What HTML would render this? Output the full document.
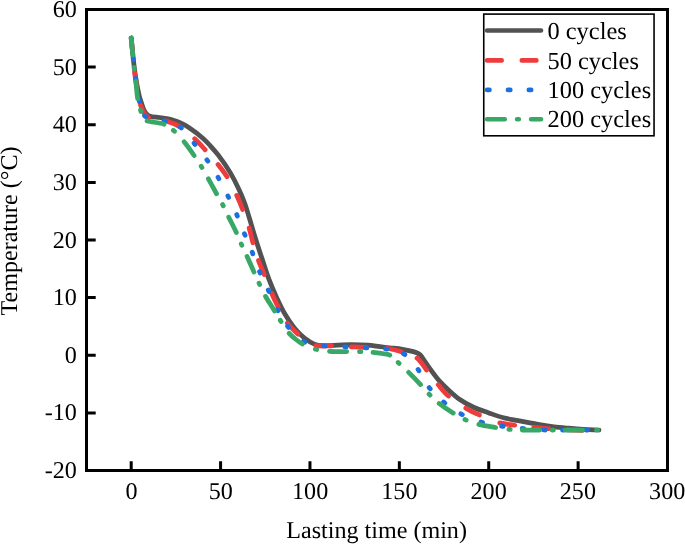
<!DOCTYPE html>
<html><head><meta charset="utf-8"><title>Chart</title>
<style>html,body{margin:0;padding:0;background:#fff;}svg{display:block;will-change:transform;}text{font-family:"Liberation Serif",serif;fill:#000;text-rendering:geometricPrecision;}</style></head><body>
<svg width="685" height="544" viewBox="0 0 685 544">
<rect x="0" y="0" width="685" height="544" fill="#fff"/>
<g fill="none" stroke-width="4.75" stroke-linecap="round" stroke-linejoin="round">
<path d="M131.20 38.00 C131.73 43.33 132.23 48.67 132.80 54.00 C133.37 59.34 133.89 64.76 134.60 70.00 C135.29 75.09 136.15 80.40 137.00 85.00 C137.73 88.96 138.48 92.84 139.30 96.00 C139.93 98.44 140.58 100.20 141.30 102.40 C142.07 104.76 142.80 107.67 143.80 109.70 C144.60 111.32 145.42 112.68 146.50 113.80 C147.51 114.85 148.45 115.69 150.00 116.30 C152.30 117.20 156.45 117.11 159.40 117.50 C162.01 117.84 164.36 118.02 166.80 118.50 C169.26 118.98 171.82 119.66 174.10 120.40 C176.19 121.08 177.87 121.72 180.00 122.70 C182.67 123.93 185.59 125.32 188.80 127.40 C193.16 130.22 199.53 135.24 203.40 138.70 C206.23 141.23 207.94 143.21 210.30 145.80 C212.96 148.72 215.64 151.66 218.50 155.40 C222.16 160.18 226.69 166.71 230.10 172.40 C233.30 177.75 236.01 183.21 238.50 188.50 C240.84 193.46 242.87 198.21 244.70 203.20 C246.54 208.21 247.84 213.07 249.50 218.50 C251.38 224.65 253.33 231.57 255.40 238.20 C257.52 245.00 259.85 251.95 262.10 258.80 C264.35 265.62 266.42 272.64 268.90 279.20 C271.27 285.49 273.89 291.51 276.60 297.40 C279.23 303.10 281.85 308.80 284.90 314.00 C287.81 318.97 290.98 323.84 294.40 328.00 C297.55 331.83 300.97 335.44 304.50 338.20 C307.67 340.68 311.08 342.86 314.40 344.10 C317.32 345.19 320.14 345.48 323.20 345.70 C326.49 345.93 329.60 345.44 333.50 345.30 C338.61 345.11 345.43 344.71 351.20 344.70 C356.72 344.69 362.35 344.82 367.40 345.20 C371.87 345.53 376.07 346.24 380.00 346.70 C383.44 347.10 386.25 347.40 389.70 347.80 C393.65 348.26 398.33 348.64 402.40 349.30 C406.21 349.92 410.55 350.75 413.40 351.60 C415.29 352.16 416.73 352.71 418.00 353.40 C419.00 353.94 419.72 354.43 420.50 355.20 C421.41 356.10 421.98 357.16 423.00 358.60 C424.71 361.01 427.21 364.97 429.70 368.40 C432.56 372.35 436.00 377.16 439.30 380.90 C442.29 384.29 445.24 387.02 448.50 390.00 C451.92 393.13 455.35 396.38 459.40 399.20 C463.81 402.26 469.10 405.19 474.10 407.50 C478.91 409.72 483.89 411.18 488.80 412.90 C493.69 414.61 498.56 416.51 503.50 417.80 C508.36 419.07 513.57 419.73 518.20 420.60 C522.35 421.38 526.29 422.10 530.00 422.80 C533.31 423.43 535.91 424.01 539.40 424.60 C543.75 425.34 549.19 426.20 554.10 426.80 C558.99 427.40 563.90 427.78 568.80 428.20 C573.70 428.62 578.53 429.00 583.50 429.30 C588.60 429.61 593.83 429.77 599.00 430.00" stroke="#525252"/>
<path d="M131.20 38.00 C131.73 43.33 132.24 48.37 132.80 54.00 C133.43 60.30 134.02 67.94 134.80 74.00 C135.45 79.09 136.13 83.13 137.00 88.00 C137.96 93.36 139.02 100.37 140.40 104.80 C141.35 107.86 142.12 110.08 143.60 112.30 C145.08 114.51 146.97 116.88 149.30 118.10 C151.73 119.37 155.09 119.09 158.00 119.60 C160.93 120.12 163.63 120.25 166.80 121.20 C170.82 122.40 175.67 124.18 180.00 126.80 C184.99 129.81 190.35 134.77 194.70 138.80 C198.56 142.38 201.45 145.72 205.00 149.60 C208.98 153.95 213.58 158.94 217.40 163.70 C221.05 168.24 224.38 172.45 227.50 177.50 C230.90 183.00 234.18 189.97 236.80 195.60 C239.01 200.36 240.52 204.12 242.40 209.00 C244.61 214.73 247.28 221.96 249.10 227.90 C250.68 233.07 251.45 237.49 252.90 242.60 C254.51 248.24 256.41 254.76 258.40 260.30 C260.21 265.34 262.19 269.50 264.20 274.50 C266.44 280.07 268.74 286.54 271.20 292.20 C273.52 297.55 275.84 302.51 278.50 307.60 C281.23 312.81 284.06 318.62 287.40 323.10 C290.40 327.12 294.15 330.43 297.30 333.50 C299.98 336.12 302.16 338.54 305.00 340.50 C307.86 342.48 310.65 344.32 314.40 345.30 C319.24 346.57 326.13 345.75 332.00 346.00 C337.89 346.25 343.75 346.55 349.70 346.80 C355.75 347.05 361.75 347.23 368.00 347.50 C374.57 347.79 382.21 347.62 388.20 348.50 C393.13 349.23 396.96 350.32 401.50 351.80 C406.50 353.43 412.68 354.97 416.90 358.10 C420.93 361.09 423.17 365.74 426.50 369.90 C430.18 374.49 434.19 379.98 438.00 384.50 C441.48 388.63 444.28 392.35 448.40 396.00 C453.16 400.21 459.81 404.62 465.30 407.90 C470.08 410.75 474.19 412.62 479.30 414.90 C485.21 417.54 492.64 420.89 498.80 422.60 C504.05 424.06 508.55 424.36 513.80 425.10 C519.56 425.91 525.97 426.60 532.00 427.20 C537.94 427.79 544.01 428.25 549.70 428.70 C554.98 429.11 559.70 429.52 565.00 429.80 C570.71 430.10 577.01 430.32 582.80 430.40 C588.33 430.48 593.60 430.33 599.00 430.30" stroke="#EE3B3E" stroke-dasharray="15.25 19.32 15.25 17.92 15.25 17.39 15.25 19.33 15.25 19.52 15.25 20.97 15.25 19.69 15.25 18.50 15.25 20.03 15.25 18.54 15.25 21.99 15.25 19.97 15.25 20.05 15.25 16.84 15.25 18.86 15.25 21.06 15.25 21.85 15.25 19.00 15.25 18.50 15.25 2000.00"/>
<path d="M131.20 38.00 C131.90 45.07 132.54 52.24 133.30 59.20 C134.04 65.97 134.75 72.41 135.70 79.20 C136.70 86.30 137.90 95.15 139.20 100.90 C140.07 104.78 140.88 107.75 142.00 110.50 C142.91 112.73 143.52 114.89 145.10 116.30 C146.78 117.79 149.28 118.26 152.00 119.00 C155.67 119.99 160.83 119.87 165.30 121.10 C170.15 122.44 175.47 123.78 180.00 127.00 C185.35 130.81 189.90 138.06 194.50 143.70 C198.99 149.20 203.30 154.68 207.30 160.40 C211.27 166.08 214.93 171.90 218.40 177.90 C221.90 183.96 225.08 190.34 228.20 196.60 C231.28 202.78 234.25 208.92 237.00 215.20 C239.75 221.48 242.10 227.98 244.70 234.30 C247.27 240.55 250.00 246.62 252.50 252.90 C255.03 259.25 257.13 265.89 259.80 272.20 C262.46 278.48 265.56 284.48 268.50 290.70 C271.49 297.04 274.28 303.80 277.60 309.90 C280.80 315.78 283.75 321.53 288.00 326.70 C292.47 332.14 299.15 338.59 304.00 341.60 C307.21 343.60 309.77 344.26 313.00 345.00 C316.52 345.80 320.02 345.72 324.40 346.00 C330.32 346.37 338.36 346.50 345.30 346.80 C352.19 347.10 359.08 347.43 365.90 347.80 C372.64 348.16 380.47 348.42 386.00 349.00 C389.92 349.41 392.91 349.61 396.00 350.50 C398.87 351.33 401.53 352.45 404.00 354.00 C406.54 355.59 408.76 357.61 411.00 360.00 C413.59 362.77 415.78 366.04 418.40 369.90 C421.84 374.96 425.18 382.56 429.50 388.00 C433.73 393.33 438.74 397.97 444.00 402.30 C449.33 406.69 455.12 410.80 461.30 414.10 C467.60 417.46 474.64 420.16 481.50 422.20 C488.24 424.20 495.21 425.25 502.10 426.30 C508.94 427.34 515.76 427.89 522.70 428.50 C529.76 429.12 537.18 429.76 544.10 430.00 C550.59 430.23 556.36 430.00 563.00 430.00 C570.41 430.00 579.89 430.00 586.50 430.00 C591.32 430.00 594.83 430.00 599.00 430.00" stroke="#1C6FE0" stroke-dasharray="1.65 18.83 1.65 18.49 1.65 20.34 1.65 15.00 1.65 18.73 1.65 15.69 1.65 19.71 1.65 19.40 1.65 19.08 1.65 19.47 1.65 18.93 1.65 18.94 1.65 18.52 1.65 18.99 1.65 18.80 1.65 19.60 1.65 18.14 1.65 20.29 1.65 19.48 1.65 19.27 1.65 18.97 1.65 18.49 1.65 17.24 1.65 19.97 1.65 19.60 1.65 18.75 1.65 19.33 1.65 20.15 1.65 19.37 1.65 19.07 1.65 19.81 1.65 17.25 1.65 21.85 1.65 2000.00"/>
<path d="M131.20 38.00 C131.80 44.33 132.44 51.51 133.00 57.00 C133.43 61.20 133.76 64.34 134.20 68.10 C134.66 72.00 135.17 75.52 135.70 80.00 C136.38 85.80 136.87 94.38 137.90 100.00 C138.67 104.18 139.81 107.78 140.70 110.80 C141.36 113.01 141.81 114.93 142.60 116.50 C143.23 117.75 143.92 118.82 144.80 119.60 C145.61 120.31 146.22 120.61 147.60 121.10 C150.82 122.25 159.94 122.45 164.60 124.40 C168.36 125.98 170.84 128.16 173.90 130.80 C177.49 133.90 181.22 138.20 184.50 142.20 C187.78 146.20 190.72 150.62 193.60 154.80 C196.37 158.82 199.01 162.76 201.50 166.80 C203.94 170.76 206.04 174.58 208.40 178.80 C210.99 183.44 213.86 188.90 216.40 193.50 C218.67 197.60 220.83 201.11 222.90 205.10 C225.03 209.20 226.88 213.48 229.00 217.80 C231.23 222.34 233.87 227.12 236.00 231.70 C238.02 236.05 239.60 240.34 241.50 244.60 C243.40 248.84 245.43 252.88 247.40 257.20 C249.46 261.73 251.57 266.66 253.60 271.20 C255.53 275.51 257.29 279.57 259.30 283.80 C261.38 288.17 263.48 292.67 265.90 297.00 C268.37 301.41 271.45 305.85 274.00 310.00 C276.33 313.79 278.22 317.21 280.60 320.90 C283.16 324.86 286.05 329.72 288.90 333.00 C291.21 335.66 293.48 337.51 296.00 339.50 C298.54 341.51 301.04 343.43 304.10 345.00 C307.57 346.77 311.86 348.27 315.90 349.30 C319.96 350.34 323.78 350.80 328.40 351.20 C334.08 351.69 341.81 351.54 347.50 351.60 C352.11 351.65 355.84 351.47 360.00 351.60 C364.17 351.73 368.34 352.00 372.50 352.40 C376.67 352.80 381.84 353.43 385.00 354.00 C386.95 354.35 388.01 354.23 389.70 355.10 C392.33 356.45 395.49 360.07 398.50 362.80 C401.78 365.77 405.15 368.91 408.60 372.30 C412.40 376.03 416.73 380.46 420.30 384.30 C423.46 387.69 425.91 390.96 429.00 394.10 C432.14 397.30 435.27 400.32 439.00 403.30 C443.17 406.64 448.41 410.17 453.00 413.00 C457.16 415.57 461.02 417.81 465.30 419.70 C469.62 421.61 474.04 423.14 478.80 424.40 C483.91 425.75 489.87 426.56 495.00 427.40 C499.62 428.16 503.81 428.87 508.20 429.30 C512.54 429.73 516.38 429.87 521.20 430.00 C527.24 430.16 535.84 430.00 541.60 430.00 C545.83 430.00 547.95 430.00 552.60 430.00 C560.67 430.00 577.14 430.00 585.70 430.00 C591.13 430.00 594.57 430.00 599.00 430.00" stroke="#38A866" stroke-dasharray="17.05 12.47 1.45 12.86 17.05 11.92 1.45 11.88 17.05 11.36 1.45 14.14 17.05 12.86 1.45 12.98 17.05 12.40 1.45 12.63 17.05 12.55 1.45 12.32 17.05 12.23 1.45 13.24 17.05 11.09 1.45 14.28 17.05 13.94 1.45 12.96 17.05 12.81 1.45 12.12 17.05 11.09 1.45 13.03 17.05 12.77 1.45 12.29 17.05 13.31 1.45 13.33 17.05 13.38 1.45 12.09 17.05 12.75 1.45 11.74 17.05 14.01 1.45 2000.00"/>
</g>
<rect x="86.5" y="9.5" width="581.0" height="461.0" fill="none" stroke="#000" stroke-width="3"/>
<path d="M131.19 470.50 V461.30 M220.58 470.50 V461.30 M309.96 470.50 V461.30 M399.35 470.50 V461.30 M488.73 470.50 V461.30 M578.12 470.50 V461.30 M86.50 412.88 H95.70 M86.50 355.25 H95.70 M86.50 297.62 H95.70 M86.50 240.00 H95.70 M86.50 182.38 H95.70 M86.50 124.75 H95.70 M86.50 67.12 H95.70" stroke="#000" stroke-width="3" fill="none"/>
<g font-size="24.1">
<text transform="translate(76.80 478.10)" text-anchor="end">-20</text>
<text transform="translate(76.80 420.48)" text-anchor="end">-10</text>
<text transform="translate(76.80 362.85)" text-anchor="end">0</text>
<text transform="translate(76.80 305.23)" text-anchor="end">10</text>
<text transform="translate(76.80 247.60)" text-anchor="end">20</text>
<text transform="translate(76.80 189.97)" text-anchor="end">30</text>
<text transform="translate(76.80 132.35)" text-anchor="end">40</text>
<text transform="translate(76.80 74.72)" text-anchor="end">50</text>
<text transform="translate(76.80 17.10)" text-anchor="end">60</text>
<text transform="translate(131.59 498.70)" text-anchor="middle">0</text>
<text transform="translate(220.85 498.70)" text-anchor="middle">50</text>
<text transform="translate(310.11 498.70)" text-anchor="middle">100</text>
<text transform="translate(399.37 498.70)" text-anchor="middle">150</text>
<text transform="translate(488.63 498.70)" text-anchor="middle">200</text>
<text transform="translate(577.89 498.70)" text-anchor="middle">250</text>
<text transform="translate(667.15 498.70)" text-anchor="middle">300</text>
<text transform="translate(376.60 537.50)" text-anchor="middle">Lasting time (min)</text>
<text transform="translate(17.00 231.00) rotate(-90)" text-anchor="middle">Temperature (°C)</text>
</g>
<rect x="483.75" y="14.1" width="170.3" height="121.7" fill="#fff" stroke="#000" stroke-width="1.6"/>
<g fill="none" stroke-width="4.60" stroke-linecap="round">
<path d="M487.1 30.5 H541.0" stroke="#525252"/>
<path d="M487.1 60.4 H541.0" stroke="#EE3B3E" stroke-dasharray="14.60 20.10"/>
<path d="M487.1 89.9 H541.0" stroke="#1C6FE0" stroke-dasharray="2.40 18.45"/>
<path d="M487.1 119.2 H541.0" stroke="#38A866" stroke-dasharray="17.70 12.25 1.80 12.25"/>
</g>
<g font-size="24.4">
<text transform="translate(547.50 39.30)" text-anchor="start">0 cycles</text>
<text transform="translate(547.50 68.70)" text-anchor="start">50 cycles</text>
<text transform="translate(547.50 98.00)" text-anchor="start">100 cycles</text>
<text transform="translate(547.50 127.30)" text-anchor="start">200 cycles</text>
</g>
</svg></body></html>
